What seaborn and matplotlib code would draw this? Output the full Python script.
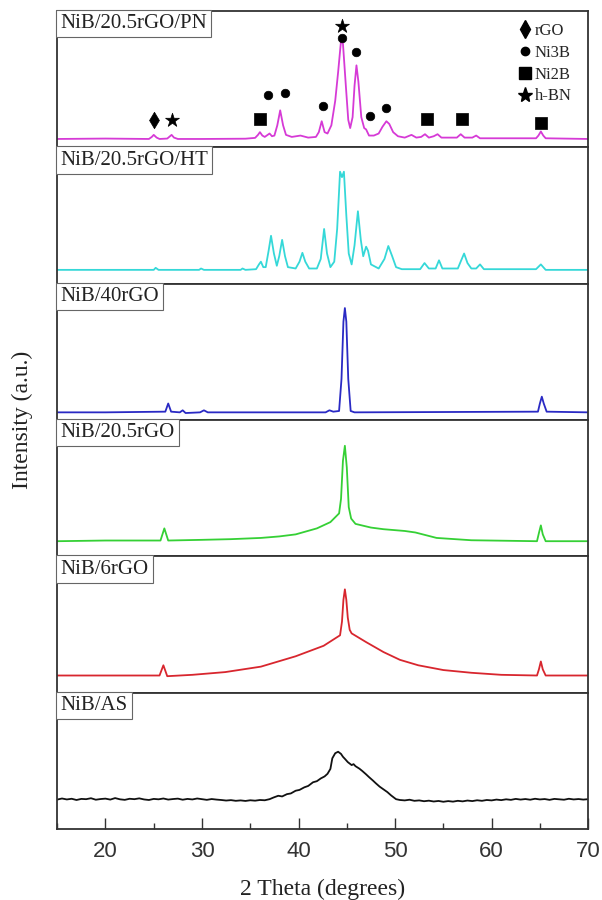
import numpy as np
import pandas as pd
import matplotlib
matplotlib.use("Agg")
import matplotlib.pyplot as plt
import seaborn as sns
from matplotlib.lines import Line2D
from matplotlib.ticker import MultipleLocator

# --------------------------------------------------
# THEME
# --------------------------------------------------
sns.set_style("ticks")
plt.rcParams['font.family'] = ['Liberation Serif', 'DejaVu Serif']
plt.rcParams['axes.linewidth'] = 1.3

# --------------------------------------------------
# DATA (intensity in % of panel height)
# --------------------------------------------------
labels = ['NiB/20.5rGO/PN', 'NiB/20.5rGO/HT', 'NiB/40rGO',
          'NiB/20.5rGO', 'NiB/6rGO', 'NiB/AS']
colors = ['#d63ad6', '#35d8d8', '#2a2ac4', '#35d035', '#d8262e', '#111111']

pn_x = [15, 20, 24.5, 24.8, 25.0, 25.3, 25.6, 26.4, 26.65, 26.85, 27.1, 27.5, 30, 34.5,
        35.5, 35.8, 36.0, 36.25, 36.5, 36.8, 37.0, 37.25, 37.5, 37.8, 38.1, 38.4, 38.7,
        39.3, 40.2, 41.0, 41.8, 42.1, 42.4, 42.7, 43.0, 43.4, 43.8, 44.1, 44.4, 44.6, 44.9,
        45.15, 45.35, 45.6, 45.8, 46.0, 46.2, 46.5, 46.8, 47.0, 47.3, 47.8, 48.3, 48.7,
        49.1, 49.4, 49.8, 50.3, 51.0, 51.7, 52.2, 52.7, 53.1, 53.5, 54.0, 54.4, 54.8, 55.5,
        56.4, 56.8, 57.2, 58.0, 58.4, 58.8, 62.0, 64.6, 64.85, 65.1, 65.35, 65.6, 70]
pn_y = [6, 6.3, 6, 7.5, 9, 7, 6, 6.3, 7.8, 9, 7, 6, 6, 6.2,
        6.8, 9, 11, 8.5, 7.5, 9, 10, 8, 8.5, 16, 27, 16, 9,
        7.5, 8.5, 7, 7.5, 11, 19, 11, 10, 16, 34, 55, 78, 76, 45,
        20, 14, 22, 45, 60, 48, 22, 14, 13, 8.5, 8.5, 10, 15,
        19, 17, 11, 8, 7, 9, 7, 7.5, 9.5, 7, 8, 9.5, 7, 7,
        7, 9.5, 7, 7, 8.5, 6.5, 6.5, 6.5, 8.5, 11.5, 8.5, 6.5, 6]

ht_x = [15, 20, 25.0, 25.2, 25.5, 29.7, 29.9, 30.2, 34.0, 34.2, 34.5, 35.6, 35.9, 36.1,
        36.35, 36.6, 36.9, 37.15, 37.45, 37.75, 38.0, 38.3, 38.6, 38.9, 39.7, 40.1, 40.4,
        40.7, 41.1, 41.9, 42.3, 42.65, 42.95, 43.3, 43.7, 44.0, 44.3, 44.5, 44.7, 44.95,
        45.2, 45.5, 45.8, 46.15, 46.45, 46.7, 47.0, 47.2, 47.5, 48.3, 48.9, 49.3, 49.7,
        50.1, 50.7, 52.6, 53.05, 53.5, 54.2, 54.55, 54.9, 56.5, 56.85, 57.15, 57.5, 57.9,
        58.4, 58.8, 59.2, 64.6, 65.1, 65.6, 70]
ht_y = [10, 10, 10, 11.5, 10, 10, 11, 10, 10, 11, 10, 10.5, 14, 16,
        12, 12, 24, 35, 22, 13, 20, 32, 20, 12, 11, 16, 22.5,
        16, 11, 11, 18, 40, 22, 12, 16, 40, 82, 78, 82, 50,
        22, 14, 28, 53, 32, 20, 27, 24, 14, 11, 18, 27.5, 20,
        12, 10.5, 10.5, 15, 11, 11, 17, 11, 11, 17, 22, 15, 11,
        11, 14, 10.5, 10.5, 14, 10, 10]

g40_x = [15, 20, 26.2, 26.5, 26.8, 27.7, 28.0, 28.3, 29.8, 30.2, 30.6, 42.8, 43.2, 43.6,
         44.2, 44.45, 44.65, 44.8, 44.95, 45.15, 45.4, 45.8, 64.8, 65.0, 65.2, 65.4, 65.7, 70]
g40_y = [5.5, 5.5, 6, 12, 6, 5.5, 7, 5, 5.5, 7, 5.5, 5.5, 7, 6,
         6.5, 30, 72, 82, 72, 30, 6.5, 5.5, 6, 12, 17, 12, 6, 5.5]

g20_x = [15, 20, 25.7, 26.1, 26.5, 30, 33, 36.1, 38, 39.7, 41.9, 43.3, 44.2, 44.4,
         44.6, 44.8, 45.0, 45.2, 45.45, 45.9, 47.5, 48.8, 51.0, 52.1, 54.3, 57.9, 64.7,
         64.9, 65.1, 65.3, 65.6, 70]
g20_y = [11, 11.5, 11.5, 20.4, 11.5, 12, 12.5, 13.4, 14.5, 16, 20.4, 25, 31.4, 42,
         70, 81, 65, 36, 27.6, 23.7, 21, 19.8, 18.5, 17.4, 13.4, 11.7, 11,
         17, 22.6, 16, 11, 11]

g6_x = [15, 20, 25.6, 26.0, 26.4, 29, 32.4, 36.1, 39.7, 42.6, 44.3, 44.5, 44.65, 44.8,
        44.95, 45.1, 45.3, 45.5, 47.0, 48.8, 50.5, 52.4, 55, 57.9, 61, 64.7, 64.9, 65.1,
        65.3, 65.6, 70]
g6_y = [12.5, 12.5, 12.5, 20, 12, 13, 15, 19, 26.6, 34.3, 42, 52, 68, 75.7,
        68, 55, 46, 43.4, 37, 29.7, 24, 20, 16.5, 14.5, 13, 12.5, 17, 22.8,
        17, 12.5, 12.5]

as_x = [15, 15.5, 16, 16.5, 17, 17.5, 18, 18.5, 19, 19.5, 20, 20.5, 21, 21.5, 22, 22.5,
        23, 23.5, 24, 24.5, 25, 25.5, 26, 26.5, 27, 27.5, 28, 28.5, 29, 29.5, 30, 30.5,
        31, 31.5, 32, 32.5, 33, 33.5, 34, 34.5, 35, 35.5, 36, 36.5,
        37, 37.4, 37.9, 38.3, 38.8, 39.2, 39.7, 40.1, 40.6, 41.0, 41.5, 41.9, 42.3, 42.7,
        43.0, 43.3, 43.5, 43.8, 44.1, 44.4, 44.6, 44.85, 45.1, 45.5, 45.7, 45.9, 46.3,
        46.6, 47.0, 47.3, 47.7, 48.0, 48.4, 48.8, 49.2, 49.6, 50.1,
        50.5, 51, 51.5, 52, 52.5, 53, 53.5, 54, 54.5, 55, 55.5, 56, 56.5, 57, 57.5, 58,
        58.5, 59, 59.5, 60, 60.5, 61, 61.5, 62, 62.5, 63, 63.5, 64, 64.5, 65, 65.5, 66,
        66.5, 67, 67.5, 68, 68.5, 69, 69.5, 70]
as_y = [21.5, 22.3, 21.6, 22.1, 21.2, 22.0, 21.8, 22.5, 21.4, 21.9, 22.2, 21.5, 22.6, 21.7,
        21.3, 22.1, 21.8, 22.4, 21.6, 21.2, 22.0, 21.7, 22.3, 21.5, 21.9, 22.2, 21.4, 22.0,
        21.6, 22.3, 21.8, 21.3, 21.9, 21.5, 21.2, 20.8, 21.1, 20.6, 20.9, 20.5, 21.0, 20.7,
        21.2, 21.0,
        21.8, 23.0, 24.3, 23.8, 25.5, 26.0, 28, 28.6, 30.5, 31.5, 34.2, 35.0, 37, 38.5,
        40.4, 44, 51.8, 55.5, 56.6, 55, 52.9, 51, 49, 46.8, 47.5, 46, 44.2,
        42.5, 40, 38, 35.5, 33.5, 31, 29, 27, 24.5, 21.8,
        21.2, 20.9, 21.4, 20.6, 20.9, 20.3, 20.7, 20.1, 20.5, 19.9, 20.4, 20.0, 20.6, 20.2,
        20.8, 20.4, 21.0, 20.6, 21.2, 20.9, 21.5, 21.1, 21.7, 21.3, 22.0, 21.5, 21.9, 21.4,
        22.1, 21.6, 21.9, 21.3, 22.0, 21.7, 21.4, 22.1, 21.6, 21.9, 21.5, 21.8]

curves = [(pn_x, pn_y), (ht_x, ht_y), (g40_x, g40_y),
          (g20_x, g20_y), (g6_x, g6_y), (as_x, as_y)]

# phase markers on the top pattern
rgo_x, rgo_y = [25.0], [20]
ni3b_x = [36.8, 38.6, 42.5, 44.5, 46.0, 47.4, 49.1]
ni3b_y = [38, 40, 30, 80, 70, 23, 29]
ni2b_x = [36.0, 53.3, 56.9, 65.1]
ni2b_y = [21, 21, 21, 18]
hbn_x = [26.9, 44.5]
hbn_y = [20, 89]

phases = [('rGO', rgo_x, rgo_y, 'd', 70),
          ('Ni3B', ni3b_x, ni3b_y, 'o', 38),
          ('Ni2B', ni2b_x, ni2b_y, 's', 70),
          ('h-BN', hbn_x, hbn_y, '*', 110)]

# --------------------------------------------------
# FIGURE
# --------------------------------------------------
fig, axes = plt.subplots(6, 1, figsize=(6.02, 9.0), dpi=100, sharex=True,
                         gridspec_kw=dict(hspace=0))
fig.subplots_adjust(left=0.095, right=0.977, top=0.988, bottom=0.079)

for ax, lab, col, (cx, cy) in zip(axes, labels, colors, curves):
    df = pd.DataFrame({'two_theta': cx, 'intensity': cy})
    sns.lineplot(data=df, x='two_theta', y='intensity', ax=ax, color=col,
                 linewidth=1.3, sort=False)
    ax.set_ylim(0, 100)
    ax.set_xlim(15, 70)
    ax.set_yticks([])
    ax.set_ylabel('')
    ax.set_xlabel('')
    for sp in ax.spines.values():
        sp.set_color('#333333')
    ax.text(0.006, 0.975, lab, transform=ax.transAxes, ha='left', va='top',
            fontsize=15, color='#222222',
            bbox=dict(boxstyle='square,pad=0.2', fc='white', ec='#666666', lw=0.8))
    ax.tick_params(axis='x', which='both', bottom=False, labelbottom=False)

# markers on top panel
top = axes[0]
for name, mx, my, mk, sz in phases:
    sns.scatterplot(x=mx, y=my, ax=top, marker=mk, s=sz, color='black',
                    edgecolor='black', linewidth=0.5, clip_on=False, zorder=5)

handles = [Line2D([], [], ls='', marker=mk, color='black', markersize=ms)
           for (name, _, _, mk, _), ms in zip(phases, [9, 6, 9, 11])]
top.legend(handles, [p[0] for p in phases], loc='upper right',
           bbox_to_anchor=(0.975, 0.935), frameon=False,
           fontsize=12, handletextpad=0.1, labelspacing=0.35, handlelength=1.0,
           borderaxespad=0.0, borderpad=0.2)

# bottom axis ticks
bot = axes[-1]
bot.xaxis.set_major_locator(MultipleLocator(10))
bot.xaxis.set_minor_locator(MultipleLocator(5))
bot.tick_params(axis='x', which='major', bottom=True, labelbottom=True, direction='in',
                length=8, width=1.0, labelsize=16, pad=9, color='#333333')
bot.tick_params(axis='x', which='minor', bottom=True, direction='in', length=4,
                width=1.0, color='#333333')
for t in bot.get_xticklabels():
    t.set_family(['Liberation Sans', 'DejaVu Sans'])
    t.set_color('#333333')

bot.set_xlabel('2 Theta (degrees)', fontsize=17, labelpad=12, color='#222222')
fig.text(0.037, 0.533, 'Intensity (a.u.)', rotation=90, ha='center', va='center',
         fontsize=17, color='#222222')

plt.savefig('out.png', dpi=100)
